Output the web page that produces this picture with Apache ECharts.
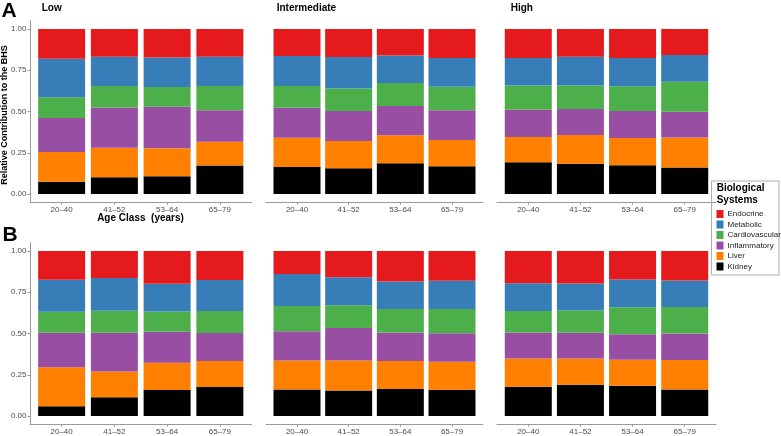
<!DOCTYPE html>
<html>
<head>
<meta charset="utf-8">
<script src="https://cdn.jsdelivr.net/npm/echarts@6/dist/echarts.min.js"></script>
<style>
html,body{margin:0;padding:0;background:#fff;}
#chart{width:781px;height:436px;}
</style>
</head>
<body>
<div id="chart"></div>
<script>
// ---- data ----
const ageClasses = ['20–40', '41–52', '53–64', '65–79'];
const systems = ['Endocrine', 'Metabolic', 'Cardiovascular', 'Inflammatory', 'Liver', 'Kidney'];
const systemColors = ['#E41A1C', '#377EB8', '#4DAF4A', '#984EA3', '#FF7F00', '#000000'];
const levels = ['Low', 'Intermediate', 'High'];
const yTicks = [0, 0.25, 0.5, 0.75, 1];

// rows follow `systems` order, columns follow `ageClasses`
const A_Low = [
  [0.180, 0.168, 0.172, 0.168],
  [0.234, 0.177, 0.180, 0.177],
  [0.125, 0.130, 0.119, 0.148],
  [0.206, 0.244, 0.252, 0.190],
  [0.180, 0.180, 0.170, 0.145],
  [0.075, 0.101, 0.107, 0.172]
];
const A_Intermediate = [
  [0.164, 0.170, 0.160, 0.176],
  [0.181, 0.190, 0.167, 0.174],
  [0.132, 0.137, 0.140, 0.143],
  [0.182, 0.182, 0.177, 0.180],
  [0.177, 0.165, 0.170, 0.159],
  [0.164, 0.156, 0.186, 0.168]
];
const A_High = [
  [0.176, 0.168, 0.176, 0.158],
  [0.167, 0.175, 0.171, 0.161],
  [0.146, 0.142, 0.150, 0.182],
  [0.166, 0.157, 0.164, 0.156],
  [0.153, 0.174, 0.165, 0.183],
  [0.192, 0.184, 0.174, 0.160]
];
const B_Low = [
  [0.174, 0.164, 0.198, 0.176],
  [0.194, 0.198, 0.168, 0.188],
  [0.127, 0.133, 0.123, 0.133],
  [0.210, 0.236, 0.188, 0.170],
  [0.236, 0.156, 0.165, 0.157],
  [0.059, 0.113, 0.158, 0.176]
];
const B_Intermediate = [
  [0.139, 0.159, 0.185, 0.181],
  [0.194, 0.170, 0.166, 0.170],
  [0.153, 0.137, 0.143, 0.147],
  [0.177, 0.197, 0.173, 0.173],
  [0.176, 0.182, 0.170, 0.170],
  [0.161, 0.155, 0.163, 0.159]
];
const B_High = [
  [0.195, 0.197, 0.173, 0.179],
  [0.169, 0.163, 0.168, 0.160],
  [0.130, 0.136, 0.163, 0.161],
  [0.158, 0.156, 0.155, 0.161],
  [0.171, 0.159, 0.158, 0.178],
  [0.177, 0.189, 0.183, 0.161]
];

// ---- layout ----
const FONT = '"Liberation Sans", Arial, Helvetica, sans-serif';
const AXIS_COLOR = '#9a9a9a';
const panels = [
  {data: A_Low, level: 0, row: 0},
  {data: A_Intermediate, level: 1, row: 0},
  {data: A_High, level: 2, row: 0},
  {data: B_Low, level: 0, row: 1},
  {data: B_Intermediate, level: 1, row: 1},
  {data: B_High, level: 2, row: 1}
];
const colLeft = [30, 266, 497];
const colWidth = [221.5, 217, 219];
const rowTop = [20.75, 242.75];
const panelHeight = 181.5;

const grids = [], xAxes = [], yAxes = [], series = [];
panels.forEach((p, i) => {
  grids.push({left: colLeft[p.level], top: rowTop[p.row], width: colWidth[p.level], height: panelHeight});
  xAxes.push({
    gridIndex: i, type: 'value', min: 0.4, max: 4.6,
    splitLine: {show: false},
    axisLine: {show: true, onZero: false, lineStyle: {color: AXIS_COLOR, width: 1}},
    axisTick: {show: true, customValues: [1, 2, 3, 4], length: 2.5, lineStyle: {color: AXIS_COLOR}},
    axisLabel: {customValues: [1, 2, 3, 4], formatter: v => ageClasses[Math.round(v) - 1],
      fontSize: 8, color: '#4d4d4d', fontFamily: FONT, margin: 3.5}
  });
  const isLow = p.level === 0;
  yAxes.push({
    gridIndex: i, type: 'value', min: -0.05, max: 1.05, show: isLow,
    splitLine: {show: false},
    axisLine: {show: true, onZero: false, lineStyle: {color: AXIS_COLOR, width: 1}},
    axisTick: {show: true, customValues: yTicks, length: 2.5, lineStyle: {color: AXIS_COLOR}},
    axisLabel: {customValues: yTicks, formatter: v => v.toFixed(2),
      fontSize: 8, color: '#4d4d4d', fontFamily: FONT, margin: 3.5}
  });
  // stack from bottom (Kidney) to top (Endocrine); value first so it is the stacked dimension
  for (let s = systems.length - 1; s >= 0; s--) {
    series.push({
      type: 'bar', name: systems[s], xAxisIndex: i, yAxisIndex: i,
      stack: 'panel' + i, barWidth: 47,
      encode: {x: 1, y: 0},
      itemStyle: {color: systemColors[s]},
      data: p.data[s].map((v, k) => [v, k + 1])
    });
  }
});

const graphics = [
  {type: 'text', x: 1.5, y: 11, style: {text: 'A', font: 'bold 21px ' + FONT, fill: '#000', verticalAlign: 'middle'}},
  {type: 'text', x: 2.5, y: 235.5, style: {text: 'B', font: 'bold 21px ' + FONT, fill: '#000', verticalAlign: 'middle'}},
  {type: 'text', x: 140.5, y: 218, style: {text: 'Age Class  (years)', font: 'bold 10px ' + FONT, fill: '#000', align: 'center', verticalAlign: 'middle'}},
  {type: 'text', x: 5, y: 115, rotation: Math.PI / 2, style: {text: 'Relative Contribution to the BHS', font: 'bold 9px ' + FONT, fill: '#000', align: 'center', verticalAlign: 'middle'}},
  {type: 'rect', shape: {x: 711.5, y: 181, width: 67.5, height: 94}, style: {fill: '#fff', stroke: '#9a9a9a', lineWidth: 0.8}, z: -1},
  {type: 'text', x: 716.7, y: 188, style: {text: 'Biological', font: 'bold 10px ' + FONT, fill: '#000', verticalAlign: 'middle'}},
  {type: 'text', x: 716.7, y: 200, style: {text: 'Systems', font: 'bold 10px ' + FONT, fill: '#000', verticalAlign: 'middle'}}
];
const titleX = [41.7, 276.7, 510.7];
levels.forEach((lv, j) => {
  graphics.push({type: 'text', x: titleX[j], y: 8.3, style: {text: lv, font: 'bold 10px ' + FONT, fill: '#000', verticalAlign: 'middle'}});
});

const chart = echarts.init(document.getElementById('chart'), null, {renderer: 'canvas'});
chart.setOption({
  animation: false,
  backgroundColor: '#fff',
  grid: grids,
  xAxis: xAxes,
  yAxis: yAxes,
  series: series,
  legend: {
    data: systems.map(s => ({name: s, icon: 'rect'})),
    orient: 'vertical', left: 716.5, top: 210, padding: 0,
    itemWidth: 7, itemHeight: 8, itemGap: 2.5,
    selectedMode: false,
    textStyle: {fontSize: 8, color: '#1a1a1a', fontFamily: FONT, padding: [0, 0, 0, -1]},
    itemStyle: {borderWidth: 0}
  },
  graphic: graphics
});
</script>
</body>
</html>
